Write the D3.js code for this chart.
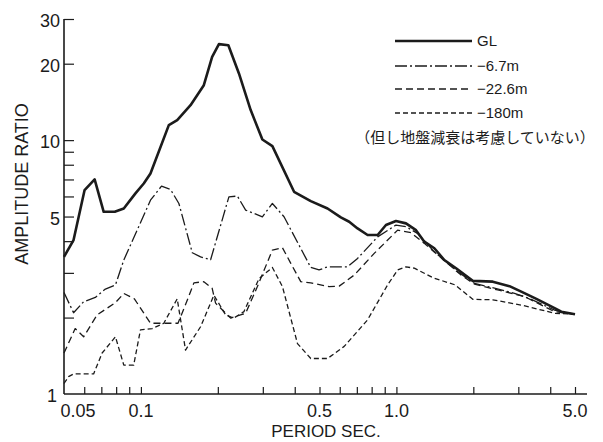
<!DOCTYPE html>
<html>
<head>
<meta charset="utf-8">
<script src="https://cdn.jsdelivr.net/npm/d3@7"></script>
<style>
  body { margin: 0; background: #fff; }
  svg { display: block; font-family: "Liberation Sans", Arial, sans-serif; }
</style>
</head>
<body>
<div id="chart"></div>
<script>
// amplitude ratio vs period, [period sec, ratio]
const gl = [
  [0.05, 3.47], [0.0545, 4.04], [0.0602, 6.36], [0.0659, 7.0], [0.0715, 5.22], [0.079, 5.22],
  [0.0857, 5.38], [0.0952, 6.17], [0.1026, 6.75], [0.109, 7.39], [0.1286, 11.46], [0.1387, 11.99],
  [0.1564, 13.73], [0.1763, 16.46], [0.19, 21.28], [0.202, 23.88], [0.2199, 23.66], [0.2419, 18.31],
  [0.2689, 13.13], [0.2988, 10.06], [0.327, 9.47], [0.3976, 6.26], [0.4623, 5.75], [0.5376, 5.38],
  [0.606, 4.96], [0.6534, 4.77], [0.7046, 4.49], [0.7713, 4.23], [0.8443, 4.23], [0.91, 4.63],
  [0.996, 4.8], [1.09, 4.7], [1.193, 4.42], [1.286, 3.98], [1.4075, 3.75], [1.54, 3.37],
  [1.712, 3.13], [1.99, 2.79], [2.384, 2.77], [2.77, 2.66], [3.08, 2.53], [3.53, 2.37],
  [4.16, 2.18], [4.42, 2.11], [5.0, 2.06]
];
const m67 = [
  [0.05, 2.51], [0.0545, 2.09], [0.0597, 2.31], [0.0663, 2.4], [0.0726, 2.59], [0.0795, 2.69],
  [0.0857, 3.37], [0.098, 4.56], [0.109, 5.8], [0.1204, 6.59], [0.1306, 6.39], [0.1408, 5.63],
  [0.1589, 3.6], [0.1712, 3.47], [0.1874, 3.38], [0.221, 5.98], [0.2385, 6.02], [0.257, 5.3],
  [0.2988, 4.99], [0.327, 5.63], [0.3632, 4.99], [0.4623, 3.15], [0.498, 3.08], [0.5376, 3.17],
  [0.644, 3.17], [0.7046, 3.42], [0.8443, 4.16], [0.996, 4.63], [1.09, 4.56], [1.21, 4.29],
  [1.4075, 3.63], [1.738, 3.03], [2.02, 2.73], [2.42, 2.61], [2.9, 2.49], [3.37, 2.36],
  [4.16, 2.14], [5.0, 2.06]
];
const m226 = [
  [0.05, 1.45], [0.0553, 1.81], [0.0597, 1.68], [0.0674, 2.05], [0.0795, 2.29], [0.0857, 2.49],
  [0.0943, 2.37], [0.109, 1.9], [0.1397, 1.9], [0.1518, 2.34], [0.1612, 2.74], [0.1763, 2.77],
  [0.19, 2.61], [0.196, 2.28], [0.2245, 1.99], [0.257, 2.08], [0.2857, 2.65], [0.327, 3.69],
  [0.358, 3.77], [0.386, 3.27], [0.4223, 2.77], [0.4623, 2.74], [0.545, 2.65], [0.597, 2.66],
  [0.6835, 2.94], [0.8186, 3.58], [1.011, 4.42], [1.14, 4.32], [1.286, 3.92], [1.451, 3.53],
  [1.791, 2.94], [2.02, 2.71], [2.49, 2.57], [3.17, 2.42], [4.16, 2.11], [5.0, 2.06]
];
const m180 = [
  [0.05, 1.1], [0.0521, 1.17], [0.0545, 1.2], [0.0653, 1.2], [0.0705, 1.45], [0.0795, 1.68],
  [0.0857, 1.3], [0.0937, 1.3], [0.0996, 1.79], [0.1107, 1.81], [0.1229, 1.9], [0.1387, 2.37],
  [0.1495, 1.49], [0.1712, 1.84], [0.193, 2.45], [0.2146, 2.05], [0.2306, 1.99], [0.253, 2.11],
  [0.29, 2.85], [0.327, 3.15], [0.358, 2.65], [0.41, 1.58], [0.4623, 1.38], [0.5376, 1.38],
  [0.6245, 1.54], [0.7713, 1.96], [0.924, 2.69], [1.011, 3.08], [1.09, 3.17], [1.175, 3.13],
  [1.391, 2.87], [1.697, 2.69], [1.99, 2.36], [2.384, 2.35], [3.08, 2.24], [4.16, 2.08], [5.0, 2.06]
];

const seriesNames = ["GL", "\u22126.7m", "\u221222.6m", "\u2212180m"];
const yTicks = [2, 3, 4, 5, 6, 7, 8, 9, 10, 20, 30];
const yLabels = [1, 5, 10, 20, 30];
const xTicks = [0.06, 0.07, 0.08, 0.09, 0.1, 0.2, 0.3, 0.4, 0.5, 0.6, 0.7, 0.8, 0.9, 1, 2, 3, 4, 5];
const xLabels = [[0.05, "0.05"], [0.1, "0.1"], [0.5, "0.5"], [1, "1.0"], [5, "5.0"]];
const note = "\uff08但し地盤減衰は考慮していない\uff09";

const width = 603, height = 442;
const ink = "#1b1b1b";

const x = d3.scaleLog().domain([0.05, 5]).range([64, 575]);
const y = d3.scaleLog().domain([1, 30]).range([394, 19]);

const svg = d3.select("#chart").append("svg")
  .attr("width", width)
  .attr("height", height);

/* axes */
svg.append("line")
  .attr("x1", x(0.05)).attr("x2", 587)
  .attr("y1", y(1)).attr("y2", y(1))
  .attr("stroke", ink).attr("stroke-width", 1.6);

svg.append("line")
  .attr("x1", x(0.05)).attr("x2", x(0.05))
  .attr("y1", y(1)).attr("y2", y(30))
  .attr("stroke", ink).attr("stroke-width", 1.6);

const yAxis = svg.append("g")
  .attr("transform", `translate(${x(0.05)},0)`)
  .call(d3.axisLeft(y).tickValues(yTicks).tickSize(-10).tickSizeOuter(0).tickFormat(() => ""));
yAxis.select(".domain").remove();
yAxis.selectAll("line").attr("stroke", ink).attr("stroke-width", 1.2);

const xAxis = svg.append("g")
  .attr("transform", `translate(0,${y(1)})`)
  .call(d3.axisBottom(x).tickValues(xTicks).tickSize(-7).tickSizeOuter(0).tickFormat(() => ""));
xAxis.select(".domain").remove();
xAxis.selectAll("line").attr("stroke", ink).attr("stroke-width", 1.2);

svg.append("g").selectAll("text")
  .data(yLabels).enter()
  .append("text")
  .attr("x", d => d === 1 ? 57 : 60)
  .attr("y", d => y(d))
  .attr("dy", "0.45em")
  .attr("text-anchor", "end")
  .attr("font-size", 18)
  .attr("fill", ink)
  .text(d => d);

svg.append("g").selectAll("text")
  .data(xLabels).enter()
  .append("text")
  .attr("x", d => x(d[0]) + (d[0] === 0.05 ? 14 : 0))
  .attr("y", 417)
  .attr("text-anchor", "middle")
  .attr("font-size", 18)
  .attr("fill", ink)
  .text(d => d[1]);

svg.append("text")
  .attr("x", 326).attr("y", 437)
  .attr("text-anchor", "middle")
  .attr("font-size", 17)
  .attr("fill", ink)
  .text("PERIOD SEC.");

svg.append("text")
  .attr("transform", "translate(28,184) rotate(-90)")
  .attr("text-anchor", "middle")
  .attr("font-size", 18)
  .attr("fill", ink)
  .text("AMPLITUDE RATIO");

/* curves */
const styles = [
  {data: gl, width: 2.6, dash: null},
  {data: m67, width: 1.3, dash: "12,3,2,3"},
  {data: m226, width: 1.3, dash: "7,4"},
  {data: m180, width: 1.3, dash: "5,3"}
];

const line = d3.line()
  .x(d => x(d[0]))
  .y(d => y(d[1]));

svg.append("g").selectAll("path")
  .data(styles).enter()
  .append("path")
  .attr("d", d => line(d.data))
  .attr("fill", "none")
  .attr("stroke", ink)
  .attr("stroke-width", d => d.width)
  .attr("stroke-dasharray", d => d.dash)
  .attr("stroke-linejoin", "round");

/* legend */
const legendY = [41, 66, 89, 113];
const legend = svg.append("g").selectAll("g")
  .data(styles).enter()
  .append("g")
  .attr("transform", (d, i) => `translate(0,${legendY[i]})`);

legend.append("line")
  .attr("x1", 395).attr("x2", 472)
  .attr("stroke", ink)
  .attr("stroke-width", d => d.width)
  .attr("stroke-dasharray", d => d.dash);

legend.append("text")
  .attr("x", 477)
  .attr("dy", "0.36em")
  .attr("font-size", 15)
  .attr("fill", ink)
  .text((d, i) => seriesNames[i]);

svg.append("text")
  .attr("x", 475).attr("y", 138)
  .attr("dy", "0.36em")
  .attr("text-anchor", "middle")
  .attr("font-family", "'Noto Sans CJK JP', sans-serif")
  .attr("font-size", 15)
  .attr("fill", ink)
  .text(note);
</script>
</body>
</html>
